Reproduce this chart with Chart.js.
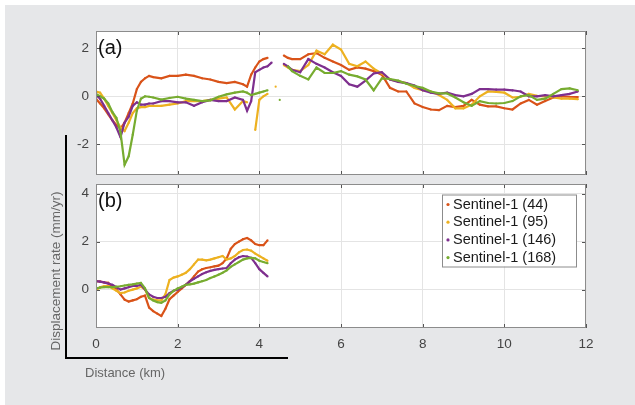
<!DOCTYPE html>
<html>
<head>
<meta charset="utf-8">
<script src="https://cdn.jsdelivr.net/npm/chart.js@4.4.1/dist/chart.umd.min.js"></script>
<style>
body { margin: 0; width: 635px; height: 405px; background: #fff; position: relative; overflow: hidden; font-family: "Liberation Sans", Arial, sans-serif; }
#bg { position: absolute; left: 5px; top: 5px; width: 630px; height: 400px; background: #e6e7e9; }
canvas { position: absolute; left: 0; top: 0; }
.ln { position: absolute; background: #000; }
#ytitle { position: absolute; left: 55px; top: 271px; transform: translate(-50%, -50%) rotate(-90deg); white-space: nowrap; font-size: 13.5px; color: #666; }
#xtitle { position: absolute; left: 85px; top: 365px; font-size: 13px; color: #666; white-space: nowrap; }
</style>
</head>
<body>
<div id="bg"></div>
<canvas id="chartA" width="635" height="405"></canvas>
<canvas id="chartB" width="635" height="405"></canvas>
<div class="ln" style="left:65px;top:135px;width:2px;height:224px"></div>
<div class="ln" style="left:65px;top:357px;width:223px;height:2px"></div>
<div id="ytitle">Displacement rate (mm/yr)</div>
<div id="xtitle">Distance (km)</div>
<script>
// series labels and colours
const labels = ['Sentinel-1 (44)', 'Sentinel-1 (95)', 'Sentinel-1 (146)', 'Sentinel-1 (168)'];
const colors = ['#D95319', '#EDB120', '#7E2F8E', '#77AC30'];

const xTicks = [0, 2, 4, 6, 8, 10, 12];
const yTicksA = [-2, 0, 2];
const yTicksB = [0, 2, 4];

// panel (a): distance along profile (km)
const distA = [0,0.1,0.2,0.3,0.4,0.5,0.6,0.7,0.8,0.9,1.0,1.1,1.2,1.3,1.4,
  1.6,1.8,2.0,2.2,2.4,2.6,2.8,3.0,3.2,3.4,3.6,
  3.7,3.8,3.9,4.0,4.1,4.2,4.3,4.4,4.5,4.6,4.7,4.8,
  5.0,5.2,5.4,5.6,5.8,6.0,6.2,6.4,6.6,6.8,7.0,7.2,7.4,7.6,7.8,8.0,8.2,8.4,8.6,8.8,
  9.0,9.2,9.4,9.6,9.8,10.0,10.2,10.4,10.6,10.8,11.0,11.2,11.4,11.6,11.8];

const s44a = [-0.1,-0.3,-0.5,-0.75,-1.0,-1.2,-1.35,-1.1,-0.7,-0.3,0.3,0.6,0.75,0.85,0.8,
  0.75,0.85,0.85,0.9,0.85,0.75,0.7,0.6,0.55,0.6,0.5,
  0.4,0.9,1.2,1.45,1.55,1.6,null,null,null,1.7,1.6,1.55,
  1.55,1.75,1.8,1.6,1.45,1.3,1.1,1.2,1.15,1.05,0.9,0.35,0.2,0.2,-0.3,-0.45,-0.55,-0.58,-0.4,-0.45,
  -0.4,-0.15,-0.35,-0.42,-0.42,-0.5,-0.55,-0.3,-0.15,-0.35,-0.2,-0.05,0.0,-0.02,-0.03];

const s95a = [0.2,0.15,-0.1,-0.4,-0.7,-1.0,-1.3,-1.45,-1.1,-0.7,-0.5,-0.45,-0.45,-0.4,-0.4,
  -0.4,-0.35,-0.3,-0.2,-0.2,-0.2,-0.15,-0.1,-0.05,-0.55,-0.2,
  -0.25,null,-1.4,-0.15,0.0,0.1,null,0.4,null,1.3,1.2,1.1,
  1.05,1.3,1.9,1.75,2.15,1.95,1.35,1.25,1.45,1.15,0.95,0.7,0.62,0.55,0.35,0.25,0.2,0.05,-0.15,-0.5,
  -0.5,-0.35,0.0,0.2,0.18,0.15,-0.05,-0.02,0.1,0.02,0.0,-0.05,-0.1,-0.1,-0.12];

const s146a = [0.05,-0.1,-0.4,-0.7,-1.0,-1.3,-1.7,-1.1,-0.85,-0.4,-0.25,-0.35,-0.35,-0.3,-0.3,
  -0.2,-0.2,-0.25,-0.25,-0.4,-0.25,-0.15,-0.2,-0.2,-0.05,-0.15,
  -0.6,-0.2,1.0,1.1,1.2,1.25,1.4,null,null,1.35,1.25,1.1,
  1.0,1.55,1.35,1.2,1.0,0.85,0.5,0.4,0.65,0.95,1.0,0.7,0.6,0.55,0.45,0.25,0.15,0.1,0.15,0.05,
  0.0,0.1,0.3,0.3,0.28,0.28,0.25,0.2,0.0,0.0,0.05,0.0,0.05,0.1,0.2];

const s168a = [0.1,0.0,-0.1,-0.3,-0.65,-0.9,-1.5,-2.85,-2.5,-1.6,-0.6,-0.1,0.0,-0.02,-0.05,
  -0.14,-0.07,-0.02,-0.1,-0.15,-0.2,-0.17,-0.02,0.08,0.15,0.2,
  0.15,0.05,0.1,0.15,0.2,0.25,null,null,-0.15,null,1.25,1.05,
  0.85,0.7,1.2,0.97,0.97,1.05,0.9,0.83,0.7,0.25,0.75,0.72,0.65,0.52,0.43,0.35,0.2,0.12,0.12,-0.05,
  -0.25,-0.4,-0.2,-0.28,-0.3,-0.28,-0.2,0.0,0.05,-0.15,-0.1,0.1,0.3,0.33,0.25];

// panel (b)
const distB = [0,0.1,0.2,0.3,0.4,0.5,0.6,0.7,0.8,0.9,1.0,1.1,1.2,1.3,1.4,1.5,1.6,1.7,1.8,1.9,
  2.0,2.1,2.2,2.3,2.4,2.5,2.6,2.7,2.8,2.9,3.0,3.1,3.2,3.3,3.4,3.5,3.6,3.7,3.8,3.9,4.0,4.1,4.2];

const s44b = [0.35,0.33,0.3,0.28,0.1,0.0,-0.2,-0.42,-0.5,-0.45,
  -0.4,-0.3,-0.25,-0.75,-0.9,-1.0,-1.1,-0.8,-0.4,-0.25,
  -0.1,0.05,0.2,0.35,0.55,0.75,0.85,0.9,0.93,0.97,
  1.0,1.1,1.3,1.7,1.9,2.0,2.1,2.15,2.05,1.9,
  1.85,1.85,2.05];

const s95b = [-0.03,0.1,0.15,0.15,0.05,-0.05,-0.15,-0.12,-0.05,0.0,
  0.05,0.12,0.0,-0.35,-0.42,-0.45,-0.45,-0.2,0.4,0.5,
  0.55,0.62,0.7,0.85,1.05,1.25,1.25,1.22,1.25,1.3,
  1.35,1.4,1.25,1.3,1.4,1.55,1.65,1.67,1.62,1.5,
  1.4,1.3,1.2];

const s146b = [0.35,0.33,0.3,0.25,0.2,0.1,0.0,0.05,0.1,0.15,
  0.15,0.2,0.0,-0.2,-0.3,-0.35,-0.35,-0.3,-0.15,-0.05,
  0.0,0.1,0.2,0.35,0.45,0.55,0.65,0.72,0.78,0.82,
  0.85,0.88,0.9,1.1,1.25,1.35,1.4,1.38,1.32,1.1,
  0.85,0.7,0.55];

const s168b = [0.05,0.08,0.1,0.1,0.1,0.12,0.14,0.17,0.2,0.22,
  0.25,0.28,0.05,-0.35,-0.45,-0.52,-0.55,-0.45,-0.2,-0.05,
  0.05,0.12,0.2,0.22,0.25,0.3,0.35,0.4,0.48,0.55,
  0.62,0.7,0.8,0.95,1.05,1.15,1.25,1.3,1.32,1.3,
  1.2,1.15,1.1];

const FONT = '"Liberation Sans", Arial, sans-serif';

// white plot area, box, inward ticks, panel letter, legend
const panelPlugin = {
  id: 'panel',
  beforeDraw(chart) {
    const a = chart.chartArea, ctx = chart.ctx;
    ctx.save();
    ctx.fillStyle = '#fff';
    ctx.fillRect(a.left, a.top, a.right - a.left, a.bottom - a.top);
    ctx.restore();
  },
  afterDraw(chart, args, opts) {
    const a = chart.chartArea, ctx = chart.ctx;
    const xs = chart.scales.x, ys = chart.scales.y;
    ctx.save();
    ctx.strokeStyle = '#555';
    ctx.lineWidth = 1;
    ctx.beginPath();
    xs.ticks.forEach(t => {
      const px = Math.round(xs.getPixelForValue(t.value)) + 0.5;
      ctx.moveTo(px, a.bottom); ctx.lineTo(px, a.bottom - 4);
      ctx.moveTo(px, a.top); ctx.lineTo(px, a.top + 4);
    });
    ys.ticks.forEach(t => {
      const py = Math.round(ys.getPixelForValue(t.value)) + 0.5;
      ctx.moveTo(a.left, py); ctx.lineTo(a.left + 4, py);
      ctx.moveTo(a.right, py); ctx.lineTo(a.right - 4, py);
    });
    ctx.stroke();
    ctx.strokeStyle = '#8c8c8c';
    ctx.strokeRect(a.left + 0.5, a.top + 0.5, a.right - a.left - 1, a.bottom - a.top - 1);

    ctx.fillStyle = '#111';
    ctx.font = '20px ' + FONT;
    ctx.textBaseline = 'middle';
    ctx.fillText(opts.letter, a.left + 2, a.top + 17);

    if (opts.legend) {
      const bx = 442, by = 194.5, bw = 134, bh = 72;
      ctx.fillStyle = '#fff';
      ctx.fillRect(bx, by, bw, bh);
      ctx.strokeStyle = '#8c8c8c';
      ctx.strokeRect(bx + 0.5, by + 0.5, bw, bh);
      ctx.font = '14.5px ' + FONT;
      chart.data.datasets.forEach((ds, i) => {
        const y = by + 10 + i * 17.7;
        ctx.fillStyle = ds.borderColor;
        ctx.beginPath();
        ctx.arc(bx + 6, y, 1.6, 0, Math.PI * 2);
        ctx.fill();
        ctx.fillStyle = '#1a1a1a';
        ctx.fillText(ds.label, bx + 11, y);
      });
    }
    ctx.restore();
  }
};

function makeSets(dist, series) {
  return series.map((s, i) => ({
    label: labels[i],
    data: dist.map((d, j) => ({ x: d, y: s[j] })),
    borderColor: colors[i],
    backgroundColor: colors[i],
    borderWidth: 2.2,
    pointRadius: 1.1,
    pointBorderWidth: 0,
    spanGaps: false,
    order: 4 - i
  }));
}

function makeChart(id, dist, series, yMin, yMax, yTicks, pad, letter, showX, legend) {
  return new Chart(document.getElementById(id), {
    type: 'line',
    data: { datasets: makeSets(dist, series) },
    options: {
      responsive: false,
      animation: false,
      layout: { padding: pad },
      plugins: {
        legend: { display: false },
        tooltip: { enabled: false },
        panel: { letter: letter, legend: legend }
      },
      scales: {
        x: {
          type: 'linear', min: 0, max: 12,
          afterBuildTicks: s => { s.ticks = xTicks.map(v => ({ value: v })); },
          afterFit: s => { s.height = showX ? 30 : 0; },
          grid: { color: '#e4e4e4', drawTicks: false },
          border: { display: false },
          ticks: { display: showX, color: '#444', padding: 8, font: { size: 13.5, family: FONT } }
        },
        y: {
          min: yMin, max: yMax,
          afterBuildTicks: s => { s.ticks = yTicks.map(v => ({ value: v })); },
          afterFit: s => { s.width = 96; },
          grid: { color: '#e4e4e4', drawTicks: false },
          border: { display: false },
          ticks: { color: '#444', padding: 7, font: { size: 13.5, family: FONT } }
        }
      }
    },
    plugins: [panelPlugin]
  });
}

makeChart('chartA', distA, [s44a, s95a, s146a, s168a], -3.28, 2.72, yTicksA,
  { top: 31, bottom: 230, left: 0, right: 49 }, '(a)', false, false);
makeChart('chartB', distB, [s44b, s95b, s146b, s168b], -1.6, 4.4, yTicksB,
  { top: 184, bottom: 47, left: 0, right: 49 }, '(b)', true, true);
</script>
</body>
</html>
